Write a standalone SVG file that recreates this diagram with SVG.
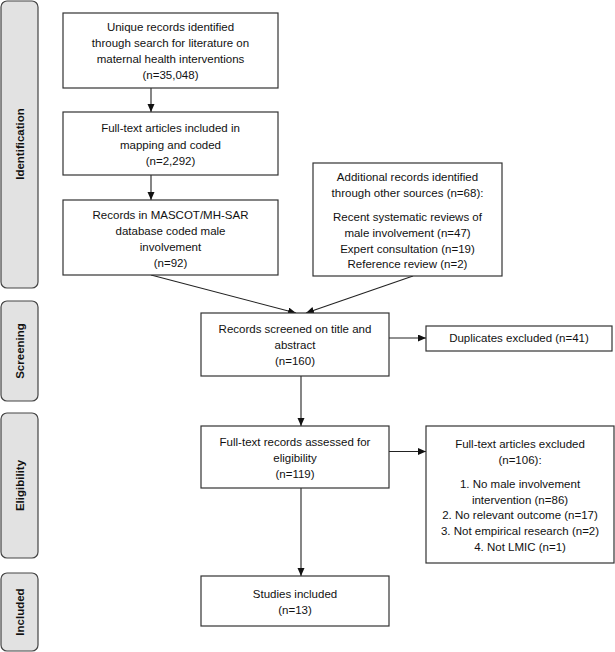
<svg xmlns="http://www.w3.org/2000/svg" width="615" height="652" viewBox="0 0 615 652">
<style>
.box{fill:#fff;stroke:#333;stroke-width:1.2}
.side{fill:#e2e2e2;stroke:#444;stroke-width:1.2}
.t{font-family:"Liberation Sans",Arial,sans-serif;font-size:11.5px;fill:#111;text-anchor:middle}
.s{font-family:"Liberation Sans",Arial,sans-serif;font-size:11.5px;font-weight:bold;fill:#111;text-anchor:middle}
.c{fill:none;stroke:#222;stroke-width:1.1}
</style>
<defs>
<marker id="ah" markerUnits="userSpaceOnUse" markerWidth="9" markerHeight="8" refX="8" refY="3.5" orient="auto">
<path d="M0,0 L8,3.5 L0,7 z" fill="#111"/>
</marker>
</defs>
<rect width="615" height="652" fill="#fff"/>

<g id="side-identification">
<rect class="side" x="1" y="1" width="37" height="287" rx="6"/>
<text class="s" transform="translate(23.5,144) rotate(-90)">Identification</text>
</g>
<g id="side-screening">
<rect class="side" x="1" y="301" width="37" height="100" rx="6"/>
<text class="s" transform="translate(23.5,351) rotate(-90)">Screening</text>
</g>
<g id="side-eligibility">
<rect class="side" x="1" y="413" width="37" height="145" rx="6"/>
<text class="s" transform="translate(23.5,485.5) rotate(-90)">Eligibility</text>
</g>
<g id="side-included">
<rect class="side" x="1" y="573" width="37" height="78" rx="6"/>
<text class="s" transform="translate(23.5,612) rotate(-90)">Included</text>
</g>

<g id="connectors">
<line class="c" x1="151" y1="88" x2="151" y2="112" marker-end="url(#ah)"/>
<line class="c" x1="151" y1="175" x2="151" y2="200" marker-end="url(#ah)"/>
<line class="c" x1="151" y1="275" x2="296" y2="313" marker-end="url(#ah)"/>
<line class="c" x1="413" y1="276" x2="306" y2="313" marker-end="url(#ah)"/>
<line class="c" x1="389" y1="338" x2="426" y2="338" marker-end="url(#ah)"/>
<line class="c" x1="301" y1="376" x2="301" y2="426" marker-end="url(#ah)"/>
<line class="c" x1="389" y1="451.5" x2="426" y2="451.5" marker-end="url(#ah)"/>
<line class="c" x1="301" y1="488" x2="301" y2="576" marker-end="url(#ah)"/>
</g>

<g id="n-unique">
<rect class="box" x="63" y="13" width="215" height="75"/>
<text class="t" x="170.5" y="31">Unique records identified</text>
<text class="t" x="170.5" y="47">through search for literature on</text>
<text class="t" x="170.5" y="63">maternal health interventions</text>
<text class="t" x="170.5" y="79">(n=35,048)</text>
</g>
<g id="n-fulltext-mapping">
<rect class="box" x="63" y="112" width="215" height="63"/>
<text class="t" x="170.5" y="132">Full-text articles included in</text>
<text class="t" x="170.5" y="148.5">mapping and coded</text>
<text class="t" x="170.5" y="165">(n=2,292)</text>
</g>
<g id="n-mascot">
<rect class="box" x="63" y="200" width="215" height="75"/>
<text class="t" x="170.5" y="219">Records in MASCOT/MH-SAR</text>
<text class="t" x="170.5" y="235">database coded male</text>
<text class="t" x="170.5" y="251">involvement</text>
<text class="t" x="170.5" y="267">(n=92)</text>
</g>
<g id="n-additional">
<rect class="box" x="313" y="163" width="189" height="113"/>
<text class="t" x="407.5" y="181">Additional records identified</text>
<text class="t" x="407.5" y="197">through other sources (n=68):</text>
<text class="t" x="407.5" y="221">Recent systematic reviews of</text>
<text class="t" x="407.5" y="236.5">male involvement (n=47)</text>
<text class="t" x="407.5" y="252.5">Expert consultation (n=19)</text>
<text class="t" x="407.5" y="268">Reference review (n=2)</text>
</g>
<g id="n-screened">
<rect class="box" x="201" y="313" width="188" height="63"/>
<text class="t" x="295" y="333">Records screened on title and</text>
<text class="t" x="295" y="349">abstract</text>
<text class="t" x="295" y="365">(n=160)</text>
</g>
<g id="n-duplicates">
<rect class="box" x="426" y="326" width="186" height="25"/>
<text class="t" x="519" y="342">Duplicates excluded (n=41)</text>
</g>
<g id="n-assessed">
<rect class="box" x="201" y="426" width="188" height="62"/>
<text class="t" x="295" y="446">Full-text records assessed for</text>
<text class="t" x="295" y="462">eligibility</text>
<text class="t" x="295" y="477.5">(n=119)</text>
</g>
<g id="n-excluded">
<rect class="box" x="426" y="426" width="188" height="137"/>
<text class="t" x="520" y="447.5">Full-text articles excluded</text>
<text class="t" x="520" y="463.5">(n=106):</text>
<text class="t" x="520" y="488">1. No male involvement</text>
<text class="t" x="520" y="503.5">intervention (n=86)</text>
<text class="t" x="520" y="519">2. No relevant outcome (n=17)</text>
<text class="t" x="520" y="535">3. Not empirical research (n=2)</text>
<text class="t" x="520" y="551">4. Not LMIC (n=1)</text>
</g>
<g id="n-included">
<rect class="box" x="201" y="576" width="188" height="50"/>
<text class="t" x="295" y="597.5">Studies included</text>
<text class="t" x="295" y="614">(n=13)</text>
</g>
</svg>
